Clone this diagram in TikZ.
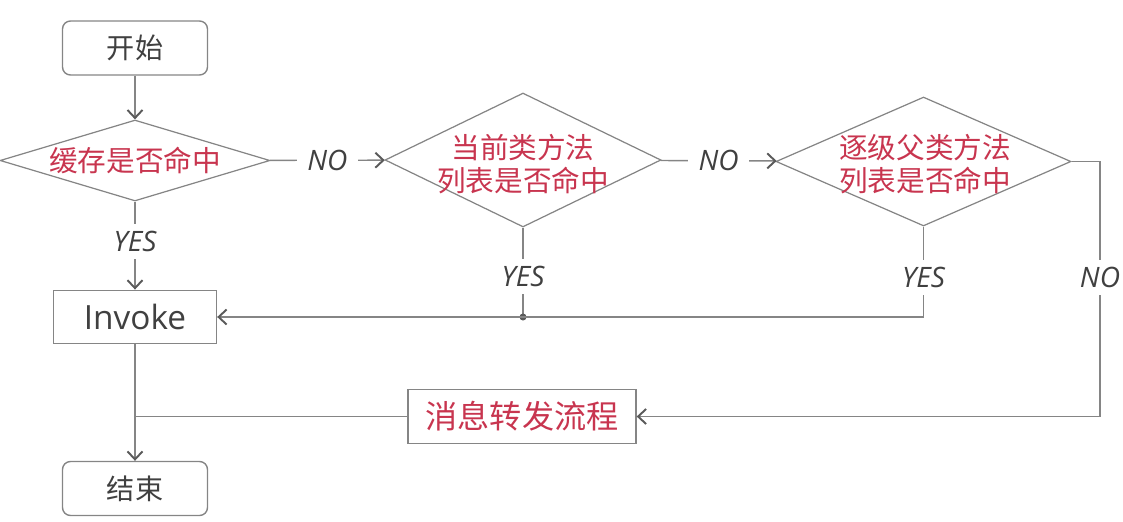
\documentclass[tikz,border=0pt]{standalone}
\usepackage{fontspec}
\setmainfont{Open Sans}
\newfontfamily\cjk{Noto Sans CJK SC}
\usetikzlibrary{shapes.geometric, arrows.meta}

\definecolor{linegray}{HTML}{858585}
\definecolor{tipgray}{HTML}{5A5A5A}
\definecolor{textgray}{HTML}{404040}
\definecolor{hitred}{HTML}{C8354F}

\begin{document}
\begin{tikzpicture}[
    x=0.02cm, y=-0.02cm,
    terminal/.style={rectangle, rounded corners=4.5pt, draw=linegray, line width=0.8pt,
                     minimum width=2.9cm, minimum height=1.08cm,
                     font=\cjk\fontsize{16}{19}\selectfont, text=textgray},
    decision/.style={diamond, draw=linegray, line width=0.7pt, inner sep=0pt},
    question/.style={align=center, font=\cjk\fontsize{16.3}{19}\selectfont, text=hitred},
    process/.style={rectangle, draw=linegray, line width=0.8pt, minimum height=1.07cm},
    answer/.style={font=\fontsize{16}{18}\selectfont\itshape, text=textgray, fill=white,
                   inner xsep=6pt, inner ysep=4pt},
    flow/.style={draw=linegray, line width=0.8pt},
    arrow/.style={flow, -{Straight Barb[length=1.6mm, width=3mm, line width=1.1pt, color=tipgray]}}
]
    \useasboundingbox (0,0) rectangle (1123,521);

    % Start and the three lookups
    \node[terminal] (start) at (135,48) {开始};
    \node[decision, minimum width=5.4cm, minimum height=1.62cm] (d1) at (135,160.5) {};
    \node[question] (q1) at (d1) {缓存是否命中};
    \node[decision, minimum width=5.52cm, minimum height=2.68cm] (d2) at (523,160) {};
    \node[question] (q2) at (523,164) {当前类方法\\列表是否命中};
    \node[decision, minimum width=5.9cm, minimum height=2.58cm] (d3) at (923.5,161.5) {};
    \node[question] (q3) at (925,164) {逐级父类方法\\列表是否命中};

    % Invoke, forwarding and end
    \node[process, minimum width=3.26cm, font=\fontsize{19}{22}\selectfont, text=textgray]
        (inv) at (135,317) {Invoke};
    \node[process, minimum width=4.56cm, font=\cjk\fontsize{18.3}{21}\selectfont, text=hitred]
        (fwd) at (522,416.5) {消息转发流程};
    \node[terminal] (end) at (135,488.5) {结束};

    \coordinate (c3) at (1100,161.5);
    \coordinate (j2) at (d2.south |- inv.east);

    % Connectors
    \draw[arrow] (start) -- (d1);
    \draw[arrow] (d1) -- node[answer] {NO} (d2);
    \draw[arrow] (d2) -- node[answer] {NO} (d3);
    \draw[arrow] (d1) -- node[answer, pos=0.45] {YES} (inv);
    \draw[flow] (d2.south) -- node[answer, pos=0.55] {YES} (j2);
    \fill[tipgray] (j2) circle (2pt);
    \draw[arrow] (d3.south) |- node[answer, pos=0.28] {YES} (inv.east);
    \draw[arrow] (d3.east) -- (c3) |- node[answer, pos=0.227] {NO} (fwd.east);
    \draw[flow] (fwd.west) -- (fwd.west -| inv.south);
    \draw[arrow] (inv) -- (end);
\end{tikzpicture}
\end{document}
